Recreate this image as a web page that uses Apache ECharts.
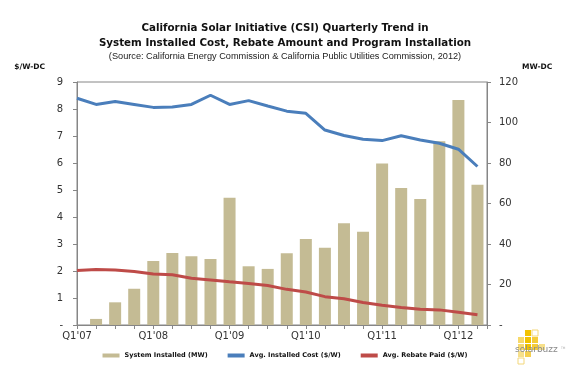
<!DOCTYPE html>
<html>
<head>
<meta charset="utf-8">
<script src="https://cdn.jsdelivr.net/npm/echarts@6/dist/echarts.min.js"></script>
<style>
  html, body { margin: 0; padding: 0; background: #fff; }
  #chart { width: 570px; height: 375px; }
</style>
</head>
<body>
<div id="chart"></div>
<script>
const quarters = [
  "Q1'07", "Q2'07", "Q3'07", "Q4'07",
  "Q1'08", "Q2'08", "Q3'08", "Q4'08",
  "Q1'09", "Q2'09", "Q3'09", "Q4'09",
  "Q1'10", "Q2'10", "Q3'10", "Q4'10",
  "Q1'11", "Q2'11", "Q3'11", "Q4'11",
  "Q1'12", "Q2'12",
]

// MW-DC, right axis
const installedMW = [
  null, 3, 11.2, 17.9,
  31.6, 35.6, 33.9, 32.6,
  62.9, 29, 27.7, 35.4,
  42.5, 38.2, 50.2, 46.1,
  79.8, 67.7, 62.2, 90.7,
  111.1, 69.3,
]

// $/W, left axis
const installedCost = [
  8.40, 8.17, 8.28, 8.17,
  8.06, 8.07, 8.17, 8.51,
  8.17, 8.31, 8.11, 7.92,
  7.84, 7.22, 7.02, 6.88,
  6.83, 7.01, 6.85, 6.73,
  6.51, 5.87,
]

const rebatePaid = [
  2.02, 2.06, 2.04, 1.98,
  1.89, 1.86, 1.73, 1.67,
  1.60, 1.54, 1.46, 1.32,
  1.22, 1.05, 0.97, 0.83,
  0.73, 0.65, 0.58, 0.56,
  0.47, 0.38,
]

const axisGray = '#868686'
const labelStyle = {
  color: '#333',
  fontFamily: 'DejaVu Sans, sans-serif',
  fontSize: 10,
}

const chart = echarts.init(document.getElementById('chart'), null, { renderer: 'canvas' })

const pairs = (values) => values.map((v, i) => [i, v])

// logo squares: [x, y, fill, outlined]
const logoSquares = [
  [10, 0, '#f2c200', false],
  [17, 0, '#fff', true],
  [3, 7, '#f7d96a', false],
  [10, 7, '#f2c200', false],
  [17, 7, '#f5cc3a', false],
  [3, 14, '#f7d96a', false],
  [10, 14, '#f2c200', false],
  [17, 14, '#f5cc3a', false],
  [24, 14, '#f7e08a', false],
  [3, 21, '#f7e08a', false],
  [10, 21, '#f5d050', false],
  [3, 28, '#fff', true],
]

chart.setOption({
  animation: false,
  backgroundColor: '#fff',
  title: [
    {
      text: 'California Solar Initiative (CSI) Quarterly Trend in\nSystem Installed Cost, Rebate Amount and Program Installation',
      left: 'center',
      top: 16,
      textStyle: {
        color: '#111',
        fontFamily: 'DejaVu Sans, sans-serif',
        fontSize: 10.3,
        fontWeight: 'bold',
        lineHeight: 15,
      },
    },
    {
      text: '(Source: California Energy Commission & California Public Utilities Commission, 2012)',
      left: 'center',
      top: 47,
      textStyle: {
        color: '#222',
        fontFamily: 'Liberation Sans, sans-serif',
        fontSize: 9.2,
        fontWeight: 'normal',
      },
    },
  ],
  grid: {
    left: 77,
    right: 83,
    top: 82,
    bottom: 50,
    show: true,
    borderColor: axisGray,
    borderWidth: 1,
    backgroundColor: 'transparent',
  },
  legend: {
    bottom: 11,
    left: 'center',
    itemWidth: 17,
    itemHeight: 4,
    itemGap: 20,
    textStyle: {
      color: '#111',
      fontFamily: 'DejaVu Sans, sans-serif',
      fontSize: 6.5,
      fontWeight: 'bold',
    },
    data: [
      { name: 'System Installed (MW)', icon: 'rect' },
      { name: 'Avg. Installed Cost ($/W)', icon: 'rect' },
      { name: 'Avg. Rebate Paid ($/W)', icon: 'rect' },
    ],
  },
  xAxis: {
    type: 'value',
    min: 0,
    max: 21.5,
    interval: 1,
    splitLine: { show: false },
    axisLine: { show: true, lineStyle: { color: axisGray } },
    axisTick: { show: true, length: 4, lineStyle: { color: axisGray } },
    axisLabel: {
      ...labelStyle,
      margin: 6,
      formatter: (v) => (Number.isInteger(v) && v % 4 === 0 ? quarters[v] : ''),
    },
  },
  yAxis: [
    {
      type: 'value',
      min: 0,
      max: 9,
      interval: 1,
      name: '$/W-DC',
      nameLocation: 'end',
      nameGap: 11,
      nameTextStyle: {
        color: '#111',
        fontFamily: 'DejaVu Sans, sans-serif',
        fontSize: 7.5,
        fontWeight: 'bold',
        align: 'right',
        padding: [0, 32, 0, 0],
      },
      splitLine: { show: false },
      axisLine: { show: true, lineStyle: { color: axisGray } },
      axisTick: { show: true, length: 4, lineStyle: { color: axisGray } },
      axisLabel: {
        ...labelStyle,
        margin: 14,
        formatter: (v) => (v === 0 ? '-' : String(v)),
      },
    },
    {
      type: 'value',
      min: 0,
      max: 120,
      interval: 20,
      position: 'right',
      name: 'MW-DC',
      nameLocation: 'end',
      nameGap: 11,
      nameTextStyle: {
        color: '#111',
        fontFamily: 'DejaVu Sans, sans-serif',
        fontSize: 7.5,
        fontWeight: 'bold',
        align: 'left',
        padding: [0, 0, 0, 35],
      },
      splitLine: { show: false },
      axisLine: { show: true, lineStyle: { color: axisGray } },
      axisTick: { show: true, length: 4, lineStyle: { color: axisGray } },
      axisLabel: {
        ...labelStyle,
        margin: 12,
        formatter: (v) => (v === 0 ? '-' : String(v)),
      },
    },
  ],
  series: [
    {
      name: 'System Installed (MW)',
      type: 'bar',
      yAxisIndex: 1,
      barWidth: 12,
      itemStyle: { color: '#c4bb94' },
      data: pairs(installedMW),
    },
    {
      name: 'Avg. Installed Cost ($/W)',
      type: 'line',
      yAxisIndex: 0,
      showSymbol: false,
      lineStyle: { color: '#4a7ebb', width: 3 },
      itemStyle: { color: '#4a7ebb' },
      data: pairs(installedCost),
    },
    {
      name: 'Avg. Rebate Paid ($/W)',
      type: 'line',
      yAxisIndex: 0,
      showSymbol: false,
      lineStyle: { color: '#be4b48', width: 3 },
      itemStyle: { color: '#be4b48' },
      data: pairs(rebatePaid),
    },
  ],
  graphic: [
    {
      type: 'group',
      x: 515,
      y: 330,
      children: [
        ...logoSquares.map(([x, y, fill, outlined]) => ({
          type: 'rect',
          shape: { x, y, width: 6, height: 6 },
          style: { fill, stroke: outlined ? '#f3d77a' : null, lineWidth: 1 },
        })),
        {
          type: 'text',
          x: 0,
          y: 15,
          style: {
            text: 'solarbuzz',
            fill: '#8a8a8a',
            font: '9px DejaVu Sans, sans-serif',
          },
        },
        {
          type: 'text',
          x: 46,
          y: 17,
          style: { text: 'TM', fill: '#aaa', font: '3px DejaVu Sans, sans-serif' },
        },
      ],
    },
  ],
})
</script>
</body>
</html>
